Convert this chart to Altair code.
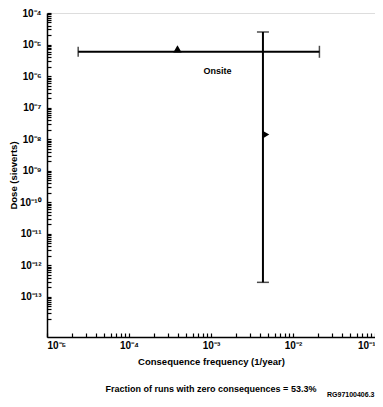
import altair as alt
import pandas as pd

# ---- data ----
h_freq_lo = [2.4e-5]
h_freq_hi = [2.1e-2]
h_dose = [5.9e-6]
h_mean_freq = [3.9e-4]

v_freq = [4.3e-3]
v_dose_lo = [2.9e-13]
v_dose_hi = [2.5e-5]
v_mean_dose = [1.4e-8]

label_text = ["Onsite"]
label_freq = [1.2e-3]
label_dose = [1.45e-6]

x_major = [1e-5, 1e-4, 1e-3, 1e-2, 1e-1]
y_major = [1e-4, 1e-5, 1e-6, 1e-7, 1e-8, 1e-9, 1e-10, 1e-11, 1e-12, 1e-13]
mult = [2, 3, 4, 5, 6, 7, 8, 9]
x_minor = [m * d for d in x_major[:-1] for m in mult]
y_minor = [m * d for d in [1e-14] + y_major[::-1][:-1] for m in mult if m * d > 10 ** -14.27]

caption = "Fraction of runs with zero consequences = 53.3%"
fig_id = "RG97100406.3"

W, H = 328, 324
FONT = "Liberation Sans"
sup = "['⁰','⁻¹','⁻²','⁻³','⁻⁴','⁻⁵','⁻⁶','⁻⁷','⁻⁸','⁻⁹','⁻¹⁰','⁻¹¹','⁻¹²','⁻¹³','⁻¹⁴']"
lg = "(log(datum.value)/LN10)"
lab_expr = (f"abs({lg} - round({lg})) < 0.01 ? '10' + " + sup + f"[-round({lg})] : ''")

xs = alt.Scale(type="log", domain=[1e-5, 1e-1], nice=False)
ys = alt.Scale(type="log", domain=[10 ** -14.27, 1e-4], nice=False)

h_df = pd.DataFrame({"lo": h_freq_lo, "hi": h_freq_hi, "dose": h_dose, "mean": h_mean_freq})
v_df = pd.DataFrame({"freq": v_freq, "lo": v_dose_lo, "hi": v_dose_hi, "mean": v_mean_dose})

TICK = 4
base_axis = dict(labelFont=FONT, labelFontWeight="bold", labelFontSize=10, labelColor="black",
                 titleFont=FONT, titleFontWeight="bold", titleFontSize=9.5, titleColor="black",
                 domainColor="black", domainWidth=1.5, grid=False, ticks=True,
                 tickColor="black", tickWidth=1.2, tickSize={"expr": f"-{TICK}"},
                 labelOverlap=False)

h_rule = alt.Chart(h_df).mark_rule(color="black", strokeWidth=2).encode(
    x=alt.X("lo:Q", scale=xs, title="Consequence frequency (1/year)",
            axis=alt.Axis(values=x_major + x_minor, labelExpr=lab_expr,
                          labelPadding=3 + TICK, titlePadding=6, **base_axis)),
    x2="hi:Q",
    y=alt.Y("dose:Q", scale=ys, title="Dose (sieverts)",
            axis=alt.Axis(values=y_major + y_minor, labelExpr=lab_expr,
                          labelPadding=6 + TICK,
                          titleX=-34, titleY=H / 2, titleBaseline="middle", titleAlign="center",
                          **base_axis)),
)
h_cap_lo = alt.Chart(h_df).mark_tick(color="black", thickness=1.5, size=10, orient="vertical").encode(
    x=alt.X("lo:Q", scale=xs), y=alt.Y("dose:Q", scale=ys))
h_cap_hi = alt.Chart(h_df).mark_tick(color="black", thickness=1.5, size=12, orient="vertical").encode(
    x=alt.X("hi:Q", scale=xs), y=alt.Y("dose:Q", scale=ys))
h_mark = alt.Chart(h_df).mark_point(shape="triangle-up", filled=True, color="black", size=70,
                                    opacity=1, yOffset=-3).encode(
    x=alt.X("mean:Q", scale=xs), y=alt.Y("dose:Q", scale=ys))

v_rule = alt.Chart(v_df).mark_rule(color="black", strokeWidth=2).encode(
    x=alt.X("freq:Q", scale=xs), y=alt.Y("lo:Q", scale=ys), y2="hi:Q")
v_caps = alt.Chart(v_df).transform_fold(["lo", "hi"]).mark_tick(
    color="black", thickness=1.5, size=12, orient="horizontal").encode(
    x=alt.X("freq:Q", scale=xs), y=alt.Y("value:Q", scale=ys))
v_mark = alt.Chart(v_df).mark_point(shape="triangle-right", filled=True, color="black", size=60,
                                    opacity=1, xOffset=3).encode(
    x=alt.X("freq:Q", scale=xs), y=alt.Y("mean:Q", scale=ys))

lab_df = pd.DataFrame({"t": label_text, "f": label_freq, "d": label_dose})
onsite = alt.Chart(lab_df).mark_text(font=FONT, fontWeight="bold", fontSize=9, color="black").encode(
    x=alt.X("f:Q", scale=xs), y=alt.Y("d:Q", scale=ys), text="t:N")

cap = alt.Chart(pd.DataFrame({"t": [caption]})).mark_text(
    font=FONT, fontWeight="bold", fontSize=9, color="black").encode(
    x=alt.value(164), y=alt.value(376), text="t:N")
fid = alt.Chart(pd.DataFrame({"t": [fig_id]})).mark_text(
    font=FONT, fontWeight="bold", fontSize=7, color="black", align="left").encode(
    x=alt.value(280), y=alt.value(382), text="t:N")

chart = alt.layer(
    h_rule, h_cap_lo, h_cap_hi, h_mark, v_rule, v_caps, v_mark, onsite, cap, fid
).properties(
    width=W, height=H,
    autosize=alt.AutoSizeParams(type="none"),
    padding={"left": 39, "top": 5, "right": 0, "bottom": 62},
).configure_view(stroke="black", strokeWidth=1.5).configure(background="white")

chart.save("out.html", embed_options={"renderer": "svg", "actions": False})
